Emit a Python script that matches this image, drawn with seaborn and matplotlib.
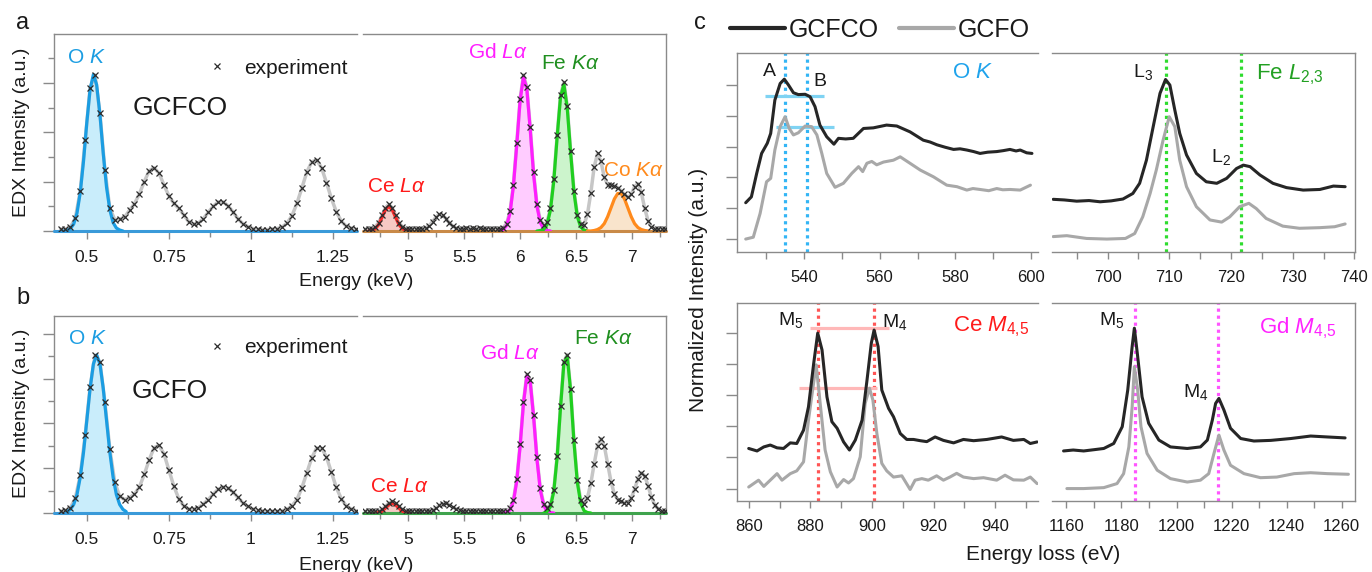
import matplotlib
matplotlib.use("Agg")
import matplotlib.pyplot as plt
import seaborn as sns
from matplotlib.lines import Line2D
from matplotlib.ticker import MultipleLocator, FuncFormatter

# ---------------- EDX spectra (panels a, b) ----------------
E_LOW = [0.420, 0.435, 0.450, 0.465, 0.480, 0.495, 0.510, 0.525, 0.540, 0.555,
         0.570, 0.585, 0.600, 0.615, 0.630, 0.645, 0.660, 0.675, 0.690, 0.705,
         0.720, 0.735, 0.750, 0.765, 0.780, 0.795, 0.810, 0.825, 0.840, 0.855,
         0.870, 0.885, 0.900, 0.915, 0.930, 0.945, 0.960, 0.975, 0.990, 1.005,
         1.020, 1.035, 1.050, 1.065, 1.080, 1.095, 1.110, 1.125, 1.140, 1.155,
         1.170, 1.185, 1.200, 1.215, 1.230, 1.245, 1.260, 1.275, 1.290, 1.305,
         1.320]
EXP_A_LOW = [0.04, 0.04, 0.08, 0.26, 0.81, 1.84, 2.90, 3.16, 2.38, 1.24,
             0.46, 0.23, 0.24, 0.28, 0.42, 0.55, 0.75, 1.00, 1.22, 1.28,
             1.17, 0.93, 0.71, 0.56, 0.46, 0.33, 0.19, 0.14, 0.16, 0.25,
             0.38, 0.50, 0.59, 0.59, 0.51, 0.39, 0.25, 0.15, 0.09, 0.05,
             0.04, 0.03, 0.03, 0.04, 0.05, 0.08, 0.16, 0.31, 0.56, 0.87,
             1.19, 1.40, 1.44, 1.28, 0.98, 0.66, 0.39, 0.20, 0.10, 0.06,
             0.04]
EXP_B_LOW = [0.04, 0.06, 0.12, 0.33, 0.84, 1.74, 2.82, 3.52, 3.37, 2.48,
             1.43, 0.69, 0.37, 0.30, 0.34, 0.42, 0.58, 0.86, 1.19, 1.46,
             1.51, 1.32, 0.96, 0.60, 0.32, 0.16, 0.09, 0.09, 0.12, 0.20,
             0.30, 0.42, 0.53, 0.58, 0.56, 0.47, 0.35, 0.23, 0.15, 0.09,
             0.06, 0.05, 0.04, 0.04, 0.04, 0.05, 0.08, 0.16, 0.30, 0.56,
             0.89, 1.23, 1.45, 1.45, 1.25, 0.91, 0.57, 0.32, 0.16, 0.09,
             0.05]

E_HIGH = [4.62, 4.65, 4.68, 4.71, 4.74, 4.77, 4.80, 4.83, 4.86, 4.89,
          4.92, 4.95, 4.98, 5.01, 5.04, 5.07, 5.10, 5.13, 5.16, 5.19,
          5.22, 5.25, 5.28, 5.31, 5.34, 5.37, 5.40, 5.43, 5.46, 5.49,
          5.52, 5.55, 5.58, 5.61, 5.64, 5.67, 5.70, 5.73, 5.76, 5.79,
          5.82, 5.85, 5.88, 5.91, 5.94, 5.97, 6.00, 6.03, 6.06, 6.09,
          6.12, 6.15, 6.18, 6.21, 6.24, 6.27, 6.30, 6.33, 6.36, 6.39,
          6.42, 6.45, 6.48, 6.51, 6.54, 6.57, 6.60, 6.63, 6.66, 6.69,
          6.72, 6.75, 6.78, 6.81, 6.84, 6.87, 6.90, 6.93, 6.96, 6.99,
          7.02, 7.05, 7.08, 7.11, 7.14, 7.17, 7.20, 7.23, 7.26, 7.29]
EXP_A_HIGH = [0.04, 0.04, 0.05, 0.09, 0.17, 0.32, 0.47, 0.54, 0.47, 0.32,
              0.17, 0.09, 0.05, 0.04, 0.04, 0.04, 0.04, 0.05, 0.07, 0.11,
              0.19, 0.28, 0.34, 0.32, 0.25, 0.16, 0.10, 0.06, 0.05, 0.05,
              0.06, 0.05, 0.06, 0.05, 0.06, 0.05, 0.05, 0.04, 0.05, 0.04,
              0.05, 0.07, 0.15, 0.40, 0.94, 1.78, 2.68, 3.16, 2.91, 2.10,
              1.19, 0.54, 0.22, 0.12, 0.18, 0.46, 1.05, 1.94, 2.75, 3.01,
              2.53, 1.63, 0.82, 0.33, 0.14, 0.13, 0.34, 0.77, 1.30, 1.57,
              1.41, 1.09, 0.94, 0.93, 0.92, 0.88, 0.82, 0.74, 0.68, 0.74,
              0.90, 0.96, 0.78, 0.46, 0.21, 0.09, 0.05, 0.04, 0.04, 0.04]
EXP_B_HIGH = [0.04, 0.04, 0.04, 0.04, 0.05, 0.08, 0.15, 0.22, 0.26, 0.22,
              0.15, 0.08, 0.05, 0.04, 0.04, 0.04, 0.04, 0.04, 0.05, 0.05,
              0.07, 0.11, 0.17, 0.21, 0.22, 0.18, 0.13, 0.09, 0.06, 0.05,
              0.04, 0.05, 0.04, 0.05, 0.04, 0.05, 0.05, 0.04, 0.05, 0.04,
              0.04, 0.04, 0.05, 0.11, 0.29, 0.75, 1.53, 2.49, 3.10, 2.97,
              2.19, 1.24, 0.55, 0.21, 0.11, 0.19, 0.52, 1.28, 2.39, 3.38,
              3.54, 2.77, 1.62, 0.73, 0.29, 0.20, 0.34, 0.66, 1.10, 1.50,
              1.66, 1.50, 1.10, 0.70, 0.42, 0.30, 0.26, 0.23, 0.23, 0.33,
              0.53, 0.77, 0.90, 0.83, 0.61, 0.35, 0.18, 0.09, 0.05, 0.04]

# fitted components
OK_E_A = [0.43, 0.44, 0.45, 0.46, 0.47, 0.48, 0.49, 0.50, 0.51, 0.52,
          0.53, 0.54, 0.55, 0.56, 0.57, 0.58, 0.59, 0.60, 0.61]
OK_A = [0.00, 0.01, 0.05, 0.14, 0.36, 0.78, 1.42, 2.20, 2.87, 3.17,
        2.96, 2.35, 1.57, 0.89, 0.43, 0.17, 0.06, 0.02, 0.00]
OK_E_B = [0.44, 0.45, 0.46, 0.47, 0.48, 0.49, 0.50, 0.51, 0.52, 0.53,
          0.54, 0.55, 0.56, 0.57, 0.58, 0.59, 0.60, 0.61, 0.62]
OK_B = [0.03, 0.08, 0.19, 0.41, 0.80, 1.36, 2.07, 2.78, 3.33, 3.53,
        3.33, 2.78, 2.07, 1.36, 0.80, 0.41, 0.19, 0.08, 0.03]

CE_E_A = [4.65, 4.68, 4.71, 4.74, 4.77, 4.80, 4.83, 4.86, 4.89, 4.92, 4.95, 4.98, 5.01]
CE_A = [0.00, 0.01, 0.05, 0.13, 0.28, 0.43, 0.50, 0.43, 0.28, 0.13, 0.05, 0.01, 0.00]
GD_E_A = [5.82, 5.85, 5.88, 5.91, 5.94, 5.97, 6.00, 6.03, 6.06, 6.09,
          6.12, 6.15, 6.18, 6.21, 6.24, 6.27]
GD_A = [0.00, 0.03, 0.11, 0.36, 0.90, 1.74, 2.64, 3.12, 2.87, 2.06,
        1.15, 0.50, 0.17, 0.04, 0.01, 0.00]
FE_E_A = [6.15, 6.18, 6.21, 6.24, 6.27, 6.30, 6.33, 6.36, 6.39, 6.42,
          6.45, 6.48, 6.51, 6.54, 6.57, 6.60]
FE_A = [0.00, 0.01, 0.03, 0.13, 0.42, 1.01, 1.90, 2.71, 2.97, 2.49,
        1.59, 0.78, 0.29, 0.08, 0.02, 0.00]
CO_E_A = [6.60, 6.63, 6.66, 6.69, 6.72, 6.75, 6.78, 6.81, 6.84, 6.87,
          6.90, 6.93, 6.96, 6.99, 7.02, 7.05, 7.08, 7.11, 7.14]
CO_A = [0.00, 0.00, 0.01, 0.03, 0.07, 0.15, 0.29, 0.47, 0.65, 0.76,
        0.76, 0.65, 0.47, 0.29, 0.15, 0.07, 0.03, 0.01, 0.00]

CE_E_B = [4.71, 4.74, 4.77, 4.80, 4.83, 4.86, 4.89, 4.92, 4.95, 4.98, 5.01]
CE_B = [0.00, 0.01, 0.04, 0.11, 0.18, 0.22, 0.18, 0.11, 0.04, 0.01, 0.00]
GD_E_B = [5.85, 5.88, 5.91, 5.94, 5.97, 6.00, 6.03, 6.06, 6.09, 6.12,
          6.15, 6.18, 6.21, 6.24, 6.27, 6.30]
GD_B = [0.00, 0.01, 0.07, 0.25, 0.71, 1.49, 2.45, 3.06, 2.93, 2.15,
        1.20, 0.51, 0.17, 0.04, 0.01, 0.00]
FE_E_B = [6.21, 6.24, 6.27, 6.30, 6.33, 6.36, 6.39, 6.42, 6.45, 6.48,
          6.51, 6.54, 6.57, 6.60, 6.63]
FE_B = [0.00, 0.03, 0.14, 0.48, 1.24, 2.35, 3.34, 3.50, 2.73, 1.58,
        0.68, 0.22, 0.05, 0.01, 0.00]

# ---------------- EELS spectra (panel c) ----------------
OK_E1 = [524.6, 526.1, 527.5, 528.8, 530.3, 531.2, 532.3, 533.7, 534.8, 535.9,
         537.2, 538.5, 540.3, 541.6, 542.9, 544.2, 546.0, 547.9, 549.1, 551.0,
         553.0, 555.7, 558.3, 561.8, 564.5, 568.0, 571.5, 573.3, 575.1, 577.3,
         579.5, 581.2, 583.0, 584.8, 586.5, 588.5, 590.9, 592.6, 594.4, 596.0,
         597.1, 598.8, 600.2]
OK_I1 = [1.18, 1.37, 2.13, 2.78, 3.11, 3.43, 4.51, 5.05, 5.19, 5.00,
         4.75, 4.69, 4.70, 4.62, 4.30, 3.70, 3.32, 3.08, 3.27, 3.25,
         3.27, 3.59, 3.61, 3.70, 3.67, 3.48, 3.21, 3.15, 3.06, 2.98,
         2.91, 2.93, 2.89, 2.84, 2.78, 2.82, 2.84, 2.87, 2.91, 2.86,
         2.89, 2.80, 2.78]
OK_E2 = [524.6, 526.6, 528.4, 530.1, 531.2, 532.3, 533.7, 535.0, 536.1, 537.2,
         538.5, 540.3, 542.0, 543.4, 544.7, 546.0, 548.2, 550.4, 552.6, 554.4,
         555.5, 556.6, 557.9, 559.2, 561.0, 563.6, 565.4, 568.0, 570.7, 574.2,
         577.7, 580.4, 583.0, 584.6, 586.5, 588.8, 590.9, 592.5, 594.4, 597.1,
         599.8]
OK_I2 = [0.00, 0.06, 0.83, 1.86, 1.97, 2.89, 3.65, 3.97, 3.59, 3.38,
         3.45, 3.67, 3.65, 3.38, 2.78, 2.13, 1.68, 1.81, 2.13, 2.35,
         2.19, 2.46, 2.52, 2.41, 2.50, 2.56, 2.67, 2.46, 2.24, 2.02,
         1.75, 1.70, 1.59, 1.64, 1.61, 1.57, 1.64, 1.60, 1.61, 1.59,
         1.75]

FE_E1 = [691.2, 693.0, 695.0, 697.0, 698.8, 700.6, 702.5, 704.1, 705.2, 706.3,
         707.4, 708.5, 709.4, 710.1, 710.9, 711.7, 712.8, 714.4, 716.0, 717.7,
         719.3, 720.9, 722.0, 723.1, 724.7, 726.8, 729.0, 731.7, 734.4, 736.6,
         738.5]
FE_I1 = [1.29, 1.27, 1.23, 1.25, 1.21, 1.24, 1.30, 1.48, 1.81, 2.56,
         3.65, 4.73, 5.18, 5.00, 4.19, 3.43, 2.73, 2.13, 1.86, 1.81,
         1.97, 2.29, 2.40, 2.35, 2.08, 1.81, 1.67, 1.59, 1.61, 1.72,
         1.70]
FE_E2 = [691.2, 693.4, 696.6, 699.9, 702.9, 704.4, 705.7, 706.9, 707.9, 709.0,
         710.0, 710.9, 711.7, 712.8, 714.4, 716.6, 718.5, 719.8, 721.4, 722.9,
         724.1, 725.7, 728.4, 731.1, 734.4, 736.8, 738.5]
FE_I2 = [0.08, 0.11, 0.02, 0.00, 0.02, 0.18, 0.72, 1.48, 2.24, 3.21,
         3.97, 3.65, 2.56, 1.70, 1.05, 0.62, 0.55, 0.72, 1.05, 1.16,
         0.99, 0.67, 0.42, 0.35, 0.37, 0.40, 0.49]

CE_E1 = [860.0, 862.7, 864.9, 867.0, 869.2, 871.3, 873.5, 875.6, 877.8, 879.4,
         881.1, 882.4, 883.8, 885.4, 887.0, 888.7, 890.8, 892.7, 894.6, 896.8,
         898.4, 899.8, 900.7, 902.0, 903.2, 905.4, 907.0, 909.2, 911.3, 913.5,
         915.7, 917.8, 920.5, 923.2, 926.5, 929.7, 933.0, 937.3, 942.1, 945.9,
         949.3, 951.4, 953.6]
CE_I1 = [1.29, 1.21, 1.34, 1.40, 1.31, 1.29, 1.47, 1.45, 1.88, 2.63,
         4.03, 5.00, 4.46, 2.95, 2.15, 1.94, 1.50, 1.24, 1.56, 2.20,
         3.49, 4.68, 5.10, 4.57, 3.17, 2.58, 2.31, 1.77, 1.58, 1.58,
         1.54, 1.51, 1.66, 1.55, 1.47, 1.58, 1.54, 1.58, 1.66, 1.55,
         1.58, 1.45, 1.50]
CE_E2 = [860.0, 863.2, 864.9, 867.0, 869.2, 870.8, 873.5, 875.6, 877.8, 879.4,
         880.9, 881.9, 883.2, 884.8, 886.5, 888.7, 890.8, 892.4, 894.0, 896.2,
         897.8, 899.2, 900.3, 901.6, 903.2, 904.8, 907.0, 909.7, 912.4, 914.0,
         916.2, 918.3, 921.0, 923.2, 925.3, 927.5, 929.7, 933.0, 936.2, 940.5,
         943.2, 945.9, 949.3, 951.4, 953.6]
CE_I2 = [0.05, 0.27, 0.07, 0.27, 0.48, 0.27, 0.48, 0.57, 0.86, 2.20,
         3.28, 3.98, 2.74, 1.24, 0.54, 0.05, 0.29, 0.18, 0.32, 1.02,
         2.74, 3.23, 2.85, 1.77, 0.81, 0.57, 0.37, 0.41, -0.03, 0.27,
         0.32, 0.27, 0.41, 0.27, 0.37, 0.49, 0.37, 0.32, 0.35, 0.27,
         0.43, 0.28, 0.27, 0.37, 0.16]

GD_E1 = [1159.0, 1162.5, 1166.3, 1170.0, 1173.6, 1177.2, 1180.3, 1182.3, 1183.9, 1184.7,
         1185.9, 1187.5, 1189.9, 1193.6, 1197.8, 1203.9, 1208.7, 1211.2, 1213.0, 1214.2,
         1215.4, 1217.2, 1219.6, 1223.3, 1228.1, 1234.2, 1241.5, 1248.7, 1254.8, 1261.2]
GD_I1 = [1.21, 1.24, 1.21, 1.25, 1.29, 1.45, 1.99, 3.17, 4.57, 5.16,
         4.25, 2.95, 2.10, 1.56, 1.34, 1.29, 1.34, 1.56, 2.20, 2.74,
         2.90, 2.53, 1.94, 1.61, 1.53, 1.55, 1.61, 1.69, 1.66, 1.63]
GD_E2 = [1160.2, 1166.3, 1173.6, 1178.4, 1180.8, 1182.7, 1183.9, 1184.7, 1185.9, 1187.1,
         1189.3, 1193.0, 1197.8, 1203.9, 1208.7, 1211.7, 1213.6, 1215.4, 1217.2, 1219.6,
         1224.5, 1230.5, 1236.4, 1242.7, 1248.7, 1254.8, 1262.4]
GD_I2 = [0.00, 0.00, 0.03, 0.16, 0.48, 1.34, 2.63, 3.92, 3.17, 1.99,
         1.13, 0.59, 0.32, 0.21, 0.27, 0.48, 1.13, 1.72, 1.24, 0.75,
         0.48, 0.35, 0.37, 0.48, 0.51, 0.48, 0.46]

# edge markers (dotted lines) and peak-height bars
OK_EDGES = [535.0, 540.7]
FE_EDGES = [709.4, 721.7]
CE_EDGES = [882.5, 900.8]
GD_EDGES = [1184.8, 1215.2]
OK_BARS = [(4.65, 529.7, 545.3), (3.65, 532.6, 548.0)]
CE_BARS = [(5.16, 879.8, 905.4), (3.23, 876.2, 901.6)]

# ---------------- style ----------------
W, H = 1372, 572
SPINE = "#8a8a8a"
TXT = "#1a1a1a"
DARK = "#262626"
LIGHT = "#a8a8a8"
CROSS = "#2c2c2c"
FIT = "#c6c6c6"

C_O, F_O = "#1b9de2", "#c9edfb"
C_CE, F_CE = "#f52a2a", "#f6c9c4"
C_GD, F_GD = "#ff1eff", "#ffccff"
C_FE, F_FE = "#1fcf1f", "#ccf4cc"
C_CO, F_CO = "#ff8a1c", "#f9e4cc"

sns.set_theme(style="ticks")
plt.rcParams["font.family"] = ["Liberation Sans", "DejaVu Sans"]
plt.rcParams["mathtext.fontset"] = "custom"
plt.rcParams["mathtext.rm"] = "Liberation Sans"
plt.rcParams["mathtext.it"] = "Liberation Sans:italic"
plt.rcParams["mathtext.bf"] = "Liberation Sans:bold"
plt.rcParams["text.color"] = TXT


def box(x0, y0, x1, y1):
    """pixel box in the 1372x572 canvas -> figure rect"""
    return [x0 / W, 1 - y1 / H, (x1 - x0) / W, (y1 - y0) / H]


fig = plt.figure(figsize=(13.72, 5.72), dpi=100)
fmt = FuncFormatter(lambda v, p: f"{v:g}")


def edx_axes(rect, side, xlim, ylim, major, minor):
    ax = fig.add_axes(box(*rect))
    ax.set_xlim(*xlim)
    ax.set_ylim(*ylim)
    for s in ax.spines.values():
        s.set_color(SPINE)
        s.set_linewidth(1.0)
    ax.xaxis.set_major_locator(MultipleLocator(major))
    ax.xaxis.set_minor_locator(MultipleLocator(minor))
    ax.xaxis.set_major_formatter(fmt)
    ax.tick_params(axis="x", which="major", length=6, width=1, color=SPINE,
                   labelsize=12.5, pad=8, labelcolor=TXT)
    ax.tick_params(axis="x", which="minor", length=4, width=1, color=SPINE)
    if side == "left":
        ax.spines["right"].set_visible(False)
        ax.yaxis.set_major_locator(MultipleLocator(1))
        ax.yaxis.set_minor_locator(MultipleLocator(0.5))
        ax.tick_params(axis="y", which="major", length=8, width=1, color=SPINE, labelleft=False)
        ax.tick_params(axis="y", which="minor", length=4, width=1, color=SPINE)
    else:
        ax.spines["left"].set_visible(False)
        ax.tick_params(axis="y", which="both", left=False, labelleft=False)
    return ax


def tidy(ax):
    ax.set_xlabel("")
    ax.set_ylabel("")


def experiment(ax, e, y):
    sns.lineplot(x=e, y=y, ax=ax, color=FIT, lw=2.5, zorder=2, legend=False, errorbar=None)
    ax.plot(e, y, ls="none", marker="x", ms=4.2, mew=0.9, color=CROSS, zorder=5)


def component(ax, e, y, line, fill):
    ax.fill_between(e, 0, y, color=fill, lw=0, zorder=1)
    sns.lineplot(x=e, y=y, ax=ax, color=line, lw=2.3, zorder=4, legend=False, errorbar=None)


# ---- panel a ----
a1 = edx_axes((54, 34, 357, 231), "left", (0.40, 1.323), (0, 3.99), 0.25, 0.125)
experiment(a1, E_LOW, EXP_A_LOW)
component(a1, OK_E_A, OK_A, C_O, F_O)
a1.axhline(0, color="#3a9ad9", lw=2.2, zorder=3, clip_on=False)
a1.text(0.50, 3.51, "O $K$", color=C_O, fontsize=15, ha="center", va="center")
a1.text(0.785, 2.5, "GCFCO", fontsize=19, ha="center", va="center")
exp_handle = Line2D([], [], ls="none", marker="x", ms=4, mew=0.9, color=CROSS)
a1.legend([exp_handle], ["experiment"], loc="center left", bbox_to_anchor=(0.504, 0.827),
          frameon=False, fontsize=15, handlelength=1.0, handletextpad=0.8,
          borderpad=0, borderaxespad=0)
tidy(a1)

a2 = edx_axes((363, 34, 666, 231), "right", (4.60, 7.30), (0, 3.99), 0.5, 0.25)
experiment(a2, E_HIGH, EXP_A_HIGH)
component(a2, CE_E_A, CE_A, C_CE, F_CE)
component(a2, GD_E_A, GD_A, C_GD, F_GD)
component(a2, FE_E_A, FE_A, C_FE, F_FE)
component(a2, CO_E_A, CO_A, C_CO, F_CO)
a2.axhline(0, color="#c98a48", lw=2.2, zorder=3, clip_on=False)
a2.text(4.90, 0.91, r"Ce $L\alpha$", color="#ff1a1a", fontsize=15, ha="center", va="center")
a2.text(5.80, 3.61, r"Gd $L\alpha$", color=C_GD, fontsize=15, ha="center", va="center")
a2.text(6.45, 3.40, r"Fe $K\alpha$", color="#1f8f1f", fontsize=15, ha="center", va="center")
a2.text(7.01, 1.22, r"Co $K\alpha$", color=C_CO, fontsize=15, ha="center", va="center")
tidy(a2)

# ---- panel b ----
b1 = edx_axes((54, 316, 357, 513), "left", (0.40, 1.323), (0, 4.4), 0.25, 0.125)
experiment(b1, E_LOW, EXP_B_LOW)
component(b1, OK_E_B, OK_B, C_O, F_O)
b1.axhline(0, color="#3a9ad9", lw=2.2, zorder=3, clip_on=False)
b1.text(0.503, 3.90, "O $K$", color=C_O, fontsize=15, ha="center", va="center")
b1.text(0.752, 2.72, "GCFO", fontsize=19, ha="center", va="center")
b1.legend([exp_handle], ["experiment"], loc="center left", bbox_to_anchor=(0.504, 0.838),
          frameon=False, fontsize=15, handlelength=1.0, handletextpad=0.8,
          borderpad=0, borderaxespad=0)
tidy(b1)

b2 = edx_axes((363, 316, 666, 513), "right", (4.60, 7.30), (0, 4.4), 0.5, 0.25)
experiment(b2, E_HIGH, EXP_B_HIGH)
component(b2, CE_E_B, CE_B, C_CE, F_CE)
component(b2, GD_E_B, GD_B, C_GD, F_GD)
component(b2, FE_E_B, FE_B, C_FE, F_FE)
b2.axhline(0, color="#3fa34d", lw=2.2, zorder=3, clip_on=False)
b2.text(4.92, 0.59, r"Ce $L\alpha$", color="#ff1a1a", fontsize=15, ha="center", va="center")
b2.text(5.905, 3.56, r"Gd $L\alpha$", color=C_GD, fontsize=15, ha="center", va="center")
b2.text(6.74, 3.90, r"Fe $K\alpha$", color="#1f8f1f", fontsize=15, ha="center", va="center")
tidy(b2)


# ---- panel c ----
def eels_axes(rect, side, xlim, ylim, major, minor):
    ax = fig.add_axes(box(*rect))
    ax.set_xlim(*xlim)
    ax.set_ylim(*ylim)
    for s in ax.spines.values():
        s.set_color(SPINE)
        s.set_linewidth(1.0)
    ax.xaxis.set_major_locator(MultipleLocator(major))
    ax.xaxis.set_minor_locator(MultipleLocator(minor))
    ax.xaxis.set_major_formatter(fmt)
    ax.tick_params(axis="x", which="major", length=5, width=1, color=SPINE,
                   labelsize=12, pad=8, labelcolor=TXT)
    ax.tick_params(axis="x", which="minor", length=5, width=1, color=SPINE)
    if side == "left":
        ax.spines["right"].set_visible(False)
        ax.set_yticks(range(6))
        ax.tick_params(axis="y", length=8, width=1, color=SPINE, labelleft=False)
    else:
        ax.spines["left"].set_visible(False)
        ax.tick_params(axis="y", which="both", left=False, labelleft=False)
    return ax


def spectra(ax, e1, i1, e2, i2):
    sns.lineplot(x=e2, y=i2, ax=ax, color=LIGHT, lw=2.2, zorder=3, legend=False,
                 errorbar=None, sort=False)
    sns.lineplot(x=e1, y=i1, ax=ax, color=DARK, lw=2.2, zorder=4, legend=False,
                 errorbar=None, sort=False)
    tidy(ax)


def edges(ax, xs, color):
    for x in xs:
        ax.axvline(x, color=color, lw=2.3, ls=(0, (1, 1.2)), zorder=2)


def bars(ax, rows, color):
    for y, x0, x1 in rows:
        ax.hlines(y, x0, x1, color=color, lw=2.3, zorder=2)


TOP = (-0.42, 6.04)
BOT = (-0.40, 5.97)

c1 = eels_axes((737, 53, 1038, 252), "left", (522.3, 601.8), TOP, 20, 10)
edges(c1, OK_EDGES, "#33b5f5")
bars(c1, OK_BARS, "#7fd3f3")
spectra(c1, OK_E1, OK_I1, OK_E2, OK_I2)
c1.text(530.8, 5.43, "A", fontsize=14, ha="center", va="center")
c1.text(544.2, 5.11, "B", fontsize=14, ha="center", va="center")
c1.text(584.4, 5.42, "O $K$", color="#1fa3ec", fontsize=16, ha="center", va="center")

c2 = eels_axes((1052, 53, 1355, 252), "right", (691.0, 740.1), TOP, 10, 5)
edges(c2, FE_EDGES, "#2edc2e")
spectra(c2, FE_E1, FE_I1, FE_E2, FE_I2)
c2.text(705.8, 5.43, "L$_3$", fontsize=14, ha="center", va="center")
c2.text(718.3, 2.67, "L$_2$", fontsize=14, ha="center", va="center")
c2.text(729.6, 5.32, r"Fe $\mathit{L}_{\mathit{2,\!3}}$", color="#22a022", fontsize=16,
        ha="center", va="center")

c3 = eels_axes((737, 303, 1038, 501), "left", (856.2, 953.9), BOT, 20, 10)
edges(c3, CE_EDGES, "#ff5555")
bars(c3, CE_BARS, "#ffb8b8")
spectra(c3, CE_E1, CE_I1, CE_E2, CE_I2)
c3.text(873.5, 5.43, "M$_5$", fontsize=14, ha="center", va="center")
c3.text(907.5, 5.37, "M$_4$", fontsize=14, ha="center", va="center")
c3.text(938.7, 5.21, r"Ce $\mathit{M}_{\mathit{4,\!5}}$", color="#ff1a1a", fontsize=16,
        ha="center", va="center")

c4 = eels_axes((1052, 303, 1355, 501), "right", (1154.8, 1264.8), BOT, 20, 10)
edges(c4, GD_EDGES, "#ff55ff")
spectra(c4, GD_E1, GD_I1, GD_E2, GD_I2)
c4.text(1176.6, 5.43, "M$_5$", fontsize=14, ha="center", va="center")
c4.text(1206.9, 3.12, "M$_4$", fontsize=14, ha="center", va="center")
c4.text(1244.0, 5.16, r"Gd $\mathit{M}_{\mathit{4,\!5}}$", color="#ff22ff", fontsize=16,
        ha="center", va="center")

fig.legend([Line2D([], [], color=DARK, lw=3), Line2D([], [], color=LIGHT, lw=3)],
           ["GCFCO", "GCFO"], loc="center left", bbox_to_anchor=(730 / W, 1 - 30 / H),
           ncol=2, frameon=False, fontsize=18, handlelength=2.2, handletextpad=0.15,
           columnspacing=0.8, borderpad=0, borderaxespad=0)

# ---- figure-level labels ----
fig.text(23 / W, 1 - 23 / H, "a", fontsize=17, ha="center", va="center")
fig.text(23 / W, 1 - 298 / H, "b", fontsize=17, ha="center", va="center")
fig.text(700 / W, 1 - 23 / H, "c", fontsize=17, ha="center", va="center")
fig.text(22 / W, 1 - 132 / H, "EDX Intensity (a.u.)", fontsize=14, rotation=90,
         ha="center", va="center")
fig.text(22 / W, 1 - 413 / H, "EDX Intensity (a.u.)", fontsize=14, rotation=90,
         ha="center", va="center")
fig.text(356 / W, 1 - 282 / H, "Energy (keV)", fontsize=14, ha="center", va="center")
fig.text(356 / W, 1 - 566 / H, "Energy (keV)", fontsize=14, ha="center", va="center")
fig.text(698 / W, 1 - 290 / H, "Normalized Intensity (a.u.)", fontsize=15, rotation=90,
         ha="center", va="center")
fig.text(1043 / W, 1 - 555 / H, "Energy loss (eV)", fontsize=15, ha="center", va="center")

fig.savefig("out.png", dpi=100)
